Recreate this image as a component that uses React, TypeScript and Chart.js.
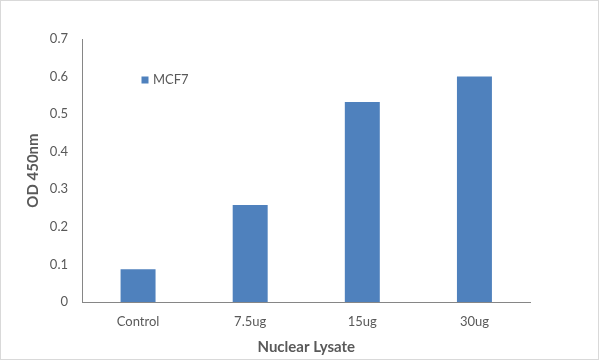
import React, { useEffect, useRef } from "react";
import { Chart, registerables } from "chart.js";

Chart.register(...registerables);

const categories = ["Control", "7.5ug", "15ug", "30ug"];
const seriesName = "MCF7";
const seriesValues = [0.087, 0.258, 0.532, 0.6];
const yTicks = [0, 0.1, 0.2, 0.3, 0.4, 0.5, 0.6, 0.7];
const xTitle = "Nuclear Lysate";
const yTitle = "OD 450nm";

const BAR_COLOR = "#4f81bd";
const TEXT_COLOR = "#595959";
const AXIS_COLOR = "#868686";
const FONT = "Lato";

const borderPlugin = {
  id: "outerBorder",
  afterDraw(chart: any) {
    const ctx = chart.ctx;
    ctx.save();
    ctx.strokeStyle = "#d9d9d9";
    ctx.lineWidth = 1;
    ctx.strokeRect(0.5, 0.5, chart.width - 2, chart.height - 2);
    ctx.restore();
  },
};

const innerLegendPlugin = {
  id: "innerLegend",
  afterDraw(chart: any) {
    const ctx = chart.ctx;
    const ds = chart.data.datasets[0];
    const x = chart.chartArea.left + 59.5;
    const y = 80;
    ctx.save();
    ctx.fillStyle = ds.backgroundColor;
    ctx.fillRect(x, y - 3.5, 7, 7);
    ctx.fillStyle = TEXT_COLOR;
    ctx.font = `13px ${FONT}`;
    ctx.textBaseline = "middle";
    ctx.textAlign = "left";
    ctx.fillText(ds.label, x + 11.5, y);
    ctx.restore();
  },
};

export default function App() {
  const canvasRef = useRef<HTMLCanvasElement | null>(null);

  useEffect(() => {
    if (!canvasRef.current) return;
    const chart = new Chart(canvasRef.current, {
      type: "bar",
      data: {
        labels: categories,
        datasets: [
          {
            label: seriesName,
            data: seriesValues,
            backgroundColor: BAR_COLOR,
            borderWidth: 0,
            categoryPercentage: 1,
            barPercentage: 0.312,
          },
        ],
      },
      options: {
        animation: false,
        responsive: false,
        maintainAspectRatio: false,
        layout: { padding: { left: 0, top: 39, right: 69.5, bottom: 0 } },
        plugins: {
          legend: { display: false },
          tooltip: { enabled: false },
        },
        scales: {
          x: {
            grid: { display: false, drawTicks: false },
            border: { display: true, color: AXIS_COLOR, width: 1 },
            ticks: {
              color: TEXT_COLOR,
              font: { family: FONT, size: 13 },
              padding: 12,
              maxRotation: 0,
            },
            title: {
              display: true,
              text: xTitle,
              color: TEXT_COLOR,
              font: { family: FONT, size: 15, weight: "bold" },
              padding: { top: 0, bottom: 5 },
            },
            afterFit(scale: any) {
              scale.height = 59;
            },
          },
          y: {
            min: 0,
            max: 0.7,
            afterBuildTicks(scale: any) {
              scale.ticks = yTicks.map((v) => ({ value: v }));
            },
            grid: { display: false, drawTicks: false },
            border: { display: true, color: AXIS_COLOR, width: 1 },
            ticks: {
              color: TEXT_COLOR,
              font: { family: FONT, size: 13 },
              padding: 14,
              callback: (v: any) => String(Number(Number(v).toFixed(1))),
            },
            title: {
              display: true,
              text: yTitle,
              color: TEXT_COLOR,
              font: { family: FONT, size: 15, weight: "bold" },
              padding: { top: 24, bottom: 0 },
            },
            afterFit(scale: any) {
              scale.width = 82;
            },
          },
        },
      },
      plugins: [borderPlugin, innerLegendPlugin],
    });
    return () => chart.destroy();
  }, []);

  return (
    <div
      style={{
        position: "absolute",
        left: 0,
        top: 0,
        width: 600,
        height: 361,
        background: "#ffffff",
      }}
    >
      <canvas
        ref={canvasRef}
        width={600}
        height={361}
        style={{ width: 600, height: 361, display: "block" }}
      />
    </div>
  );
}
